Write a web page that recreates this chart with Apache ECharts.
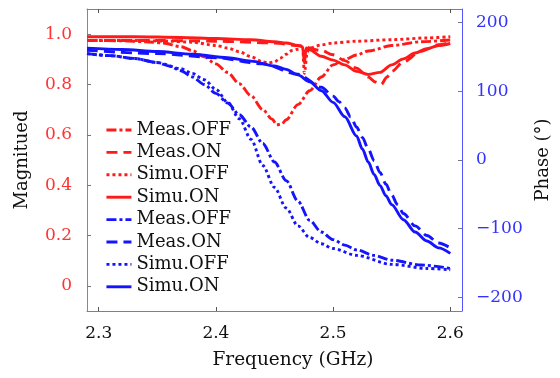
<!DOCTYPE html>
<html>
<head>
<meta charset="utf-8">
<script src="https://cdn.jsdelivr.net/npm/echarts@6/dist/echarts.min.js"></script>
<style>html,body{margin:0;padding:0;background:#fff}#c{width:560px;height:378px}</style>
</head>
<body>
<div id="c"></div>
<script>
const freqTicks = [2.3, 2.4, 2.5, 2.6];
const magTicks = [0, 0.2, 0.4, 0.6, 0.8, 1.0];
const phaseTicks = [-200, -100, 0, 100, 200];

// Magnitude (left axis)
const magMeasOffF = [2.29,2.32,2.34,2.355,2.37,2.38,2.39,2.40,2.41,2.42,2.43,2.44,2.448,2.452,2.456,2.46,2.47,2.48,2.49,2.50,2.51,2.52,2.53,2.55,2.575,2.6];
const magMeasOffV = [.975,.974,.97,.965,.95,.935,.91,.882,.848,.803,.755,.70,.662,.64,.642,.66,.72,.775,.83,.878,.9,.917,.933,.955,.97,.977];
const magMeasOnF = [2.29,2.35,2.40,2.45,2.47,2.49,2.50,2.51,2.52,2.53,2.536,2.541,2.546,2.55,2.56,2.575,2.59,2.6];
const magMeasOnV = [.975,.975,.972,.965,.955,.935,.918,.895,.865,.83,.81,.80,.83,.852,.89,.932,.958,.968];
const magSimuOffF = [2.29,2.33,2.36,2.38,2.40,2.41,2.42,2.43,2.44,2.445,2.45,2.455,2.46,2.465,2.47,2.474,2.4755,2.478,2.48,2.49,2.50,2.52,2.55,2.58,2.6];
const magSimuOffV = [.975,.975,.972,.968,.955,.945,.93,.91,.89,.885,.89,.905,.92,.935,.94,.945,.845,.93,.945,.957,.965,.972,.978,.985,.99];
const magSimuOnF = [2.29,2.33,2.37,2.40,2.43,2.45,2.46,2.47,2.474,2.4755,2.477,2.48,2.49,2.50,2.51,2.52,2.53,2.54,2.55,2.56,2.57,2.58,2.59,2.6];
const magSimuOnV = [.99,.99,.987,.983,.978,.97,.965,.955,.95,.885,.945,.938,.912,.897,.878,.852,.84,.848,.878,.902,.925,.942,.955,.963];

// Phase (right axis)
const phMeasOffF = [2.29,2.31,2.33,2.35,2.36,2.37,2.38,2.39,2.40,2.41,2.42,2.43,2.44,2.45,2.46,2.47,2.48,2.49,2.50,2.51,2.52,2.535,2.55,2.575,2.6];
const phMeasOffV = [155,152,148,142,137,130,121,110,97,83,66,48,24,-3,-30,-60,-88,-105,-116,-124,-131,-139,-146,-153,-158];
const phMeasOnF = [2.29,2.35,2.40,2.44,2.47,2.49,2.50,2.505,2.51,2.515,2.52,2.525,2.53,2.535,2.54,2.545,2.55,2.555,2.56,2.57,2.58,2.59,2.6];
const phMeasOnV = [160,155,149,140,125,106,93,85,76,63,48,33,16,-1,-18,-35,-51,-65,-78,-96,-110,-121,-128];
const phSimuOffF = [2.29,2.31,2.33,2.35,2.37,2.38,2.39,2.40,2.41,2.42,2.43,2.44,2.45,2.46,2.47,2.48,2.49,2.50,2.52,2.55,2.58,2.6];
const phSimuOffV = [155,152,148,142,133,126,117,103,84,60,30,-8,-40,-70,-96,-113,-122,-129,-139,-152,-158,-160];
const phSimuOnF = [2.29,2.32,2.35,2.38,2.41,2.43,2.45,2.46,2.47,2.48,2.49,2.50,2.51,2.52,2.525,2.53,2.535,2.54,2.545,2.55,2.56,2.57,2.58,2.59,2.6];
const phSimuOnV = [163,161,158,154,149,144,137,132,124,114,101,84,63,35,16,-3,-21,-37,-52,-65,-87,-105,-118,-128,-136];

const zip = (f, v) => f.map((x, i) => [x, v[i]]);
const RED = '#ff1a1a', BLUE = '#1414ff';
const FONT = 'DejaVu Serif';
const DASHDOT = [10, 3, 3, 3], DASH = [11, 6], DOT = [3, 3];

function mk(name, color, type, data, yi) {
  return {
    name, type: 'line', yAxisIndex: yi, data, showSymbol: false, symbol: 'none',
    smooth: 0.3, smoothMonotone: 'x',
    lineStyle: { color, width: 2.9, type },
    itemStyle: { color }
  };
}

const series = [
  mk('Meas.OFF', RED, DASHDOT, zip(magMeasOffF, magMeasOffV), 0),
  mk('Meas.ON', RED, DASH, zip(magMeasOnF, magMeasOnV), 0),
  mk('Simu.OFF', RED, DOT, zip(magSimuOffF, magSimuOffV), 0),
  mk('Simu.ON', RED, 'solid', zip(magSimuOnF, magSimuOnV), 0),
  mk('Meas.OFF ', BLUE, DASHDOT, zip(phMeasOffF, phMeasOffV), 1),
  mk('Meas.ON ', BLUE, DASH, zip(phMeasOnF, phMeasOnV), 1),
  mk('Simu.OFF ', BLUE, DOT, zip(phSimuOffF, phSimuOffV), 1),
  mk('Simu.ON ', BLUE, 'solid', zip(phSimuOnF, phSimuOnV), 1)
];

const chart = echarts.init(document.getElementById('c'), null, { renderer: 'canvas' });
chart.setOption({
  animation: false,
  backgroundColor: '#fff',
  grid: { left: 87, right: 96, top: 9, bottom: 67, containLabel: false },
  legend: {
    orient: 'vertical', left: 105, top: 121, padding: 0, itemWidth: 25, itemHeight: 14, itemGap: 4.4,
    itemStyle: { opacity: 0 },
    lineStyle: { width: 2.9 },
    textStyle: { fontFamily: FONT, fontSize: 18, color: '#111' },
    data: series.map(s => s.name)
  },
  graphic: [{
    type: 'text', x: 293, y: 360,
    style: { text: 'Frequency (GHz)', font: '18.5px "DejaVu Serif"', fill: '#111', align: 'center', verticalAlign: 'middle' }
  }],
  xAxis: [{
    type: 'value', min: 2.29, max: 2.61, position: 'bottom',
    axisLine: { show: true, onZero: false, lineStyle: { color: '#808080', width: 1 } },
    axisTick: { show: true, inside: true, length: 4, customValues: freqTicks, lineStyle: { color: '#555' } },
    axisLabel: { customValues: freqTicks, margin: 14, fontFamily: FONT, fontSize: 17, color: '#111', formatter: v => v.toFixed(1) },
    splitLine: { show: false }
  }, {
    type: 'value', min: 2.29, max: 2.61, position: 'top',
    axisLine: { show: true, onZero: false, lineStyle: { color: '#808080', width: 1 } },
    axisTick: { show: true, inside: true, length: 4, customValues: freqTicks, lineStyle: { color: '#555' } },
    axisLabel: { show: false },
    splitLine: { show: false }
  }],
  yAxis: [{
    type: 'value', min: -0.1, max: 1.1, position: 'left',
    name: 'Magnitued', nameLocation: 'middle', nameGap: 56, nameRotate: 90,
    nameTextStyle: { fontFamily: FONT, fontSize: 18, color: '#111' },
    axisLine: { show: true, onZero: false, lineStyle: { color: '#ff5555', width: 1 } },
    axisTick: { show: true, inside: true, length: 4, customValues: magTicks, lineStyle: { color: '#777' } },
    axisLabel: { customValues: magTicks, margin: 15, fontFamily: FONT, fontSize: 17, color: '#ff3333',
      formatter: v => Math.abs(v) < 1e-9 ? '0' : v.toFixed(1) },
    splitLine: { show: false }
  }, {
    type: 'value', min: -220, max: 220, position: 'right',
    name: 'Phase (°)', nameLocation: 'middle', nameGap: 72, nameRotate: 90,
    nameTextStyle: { fontFamily: FONT, fontSize: 18, color: '#111' },
    axisLine: { show: true, onZero: false, lineStyle: { color: '#5555ff', width: 1 } },
    axisTick: { show: true, inside: true, length: 4, customValues: phaseTicks, lineStyle: { color: '#777' } },
    axisLabel: { customValues: phaseTicks, margin: 14, fontFamily: FONT, fontSize: 17, color: '#3333ff',
      formatter: v => v < 0 ? '\u2212' + Math.abs(v) : String(v) },
    splitLine: { show: false }
  }],
  series
});
</script>
</body>
</html>
